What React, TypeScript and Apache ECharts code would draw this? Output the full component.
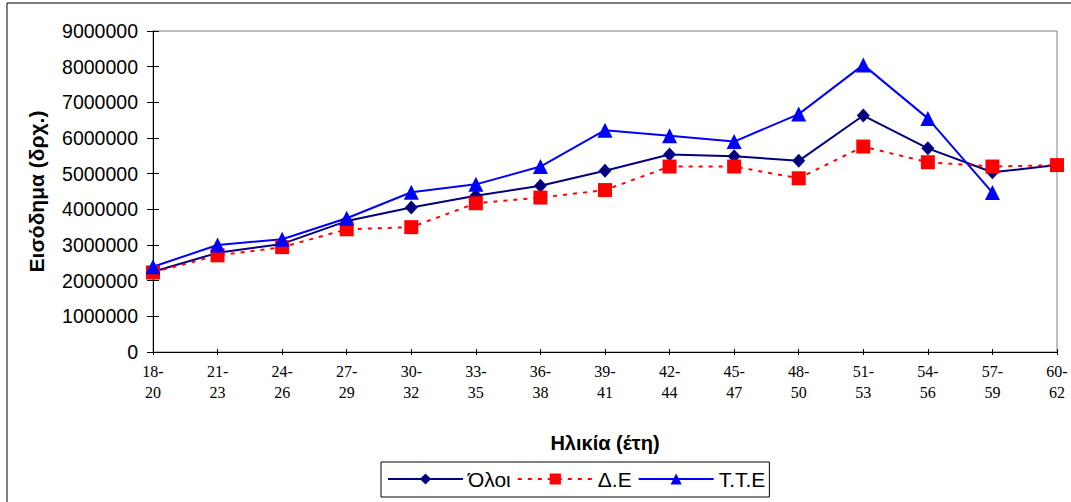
import React, { useEffect, useRef } from "react";
import * as echarts from "echarts";

const categories = ["18-\n20", "21-\n23", "24-\n26", "27-\n29", "30-\n32", "33-\n35", "36-\n38", "39-\n41", "42-\n44", "45-\n47", "48-\n50", "51-\n53", "54-\n56", "57-\n59", "60-\n62"];
const oloi = [2250000, 2780000, 3030000, 3670000, 4050000, 4380000, 4660000, 5080000, 5540000, 5490000, 5360000, 6630000, 5710000, 5040000, 5240000];
const de = [2230000, 2710000, 2940000, 3440000, 3500000, 4170000, 4330000, 4540000, 5200000, 5200000, 4870000, 5760000, 5320000, 5200000, 5240000];
const tte = [2390000, 3000000, 3160000, 3750000, 4480000, 4700000, 5200000, 6220000, 6060000, 5900000, 6670000, 8050000, 6550000, 4470000, null];
const seriesNames = ["Όλοι", "Δ.Ε", "Τ.Τ.Ε"];
const yAxisName = "Εισόδημα (δρχ.)";
const xAxisName = "Ηλικία (έτη)";

export default function App() {
  const ref = useRef<HTMLDivElement>(null);
  useEffect(() => {
    if (!ref.current) return;
    const chart = echarts.init(ref.current, null, { renderer: "svg" });
    const sans = "'Liberation Sans', Arial, sans-serif";
    const serif = "'Liberation Serif', 'Times New Roman', serif";
    chart.setOption({
      animation: false,
      backgroundColor: "#ffffff",
      grid: {
        left: 153,
        top: 31,
        right: 14,
        bottom: 150,
        show: true,
        borderColor: "#808080",
        borderWidth: 1,
        backgroundColor: "transparent",
      },
      graphic: [
        {
          type: "rect",
          shape: { x: 7, y: 3, width: 1080, height: 520 },
          style: { fill: "none", stroke: "#000", lineWidth: 1 },
          silent: true,
          z: -10,
        },
      ],
      legend: {
        left: 381,
        top: 462,
        orient: "horizontal",
        data: seriesNames,
        itemWidth: 75,
        itemHeight: 14,
        itemGap: 6,
        borderColor: "#000",
        borderWidth: 1,
        padding: [6, 4, 7, 6],
        textStyle: { fontFamily: sans, fontSize: 21, color: "#000", lineHeight: 22 },
      },
      xAxis: [
        {
          type: "category",
          data: categories,
          boundaryGap: false,
          name: xAxisName,
          nameLocation: "middle",
          nameGap: 81,
          nameTextStyle: { fontFamily: sans, fontSize: 20, fontWeight: "bold", color: "#000" },
          axisLine: { lineStyle: { color: "#000", width: 1 } },
          axisTick: { show: true, inside: false, length: 3, lineStyle: { color: "#000" } },
          axisLabel: {
            fontFamily: serif,
            fontSize: 16,
            color: "#000",
            lineHeight: 21,
            margin: 9,
            interval: 0,
          },
          splitLine: { show: false },
        },
        {
          type: "category",
          data: categories,
          boundaryGap: false,
          position: "bottom",
          axisLine: { show: false },
          axisTick: { show: true, inside: true, length: 3, lineStyle: { color: "#000" } },
          axisLabel: { show: false },
          splitLine: { show: false },
        },
      ],
      yAxis: [
        {
          type: "value",
          min: 0,
          max: 9000000,
          interval: 1000000,
          name: yAxisName,
          nameLocation: "middle",
          nameGap: 106,
          nameRotate: 90,
          nameTextStyle: { fontFamily: sans, fontSize: 21, fontWeight: "bold", color: "#000" },
          axisLine: { show: true, lineStyle: { color: "#000", width: 1 } },
          axisTick: { show: true, inside: false, length: 6, lineStyle: { color: "#000" } },
          axisLabel: {
            fontFamily: sans,
            fontSize: 19.5,
            color: "#000",
            margin: 15,
            formatter: (v: number) => String(v),
          },
          splitLine: { show: false },
        },
        {
          type: "value",
          min: 0,
          max: 9000000,
          interval: 1000000,
          position: "left",
          axisLine: { show: false },
          axisTick: { show: true, inside: true, length: 6, lineStyle: { color: "#000" } },
          axisLabel: { show: false },
          splitLine: { show: false },
        },
      ],
      series: [
        {
          name: seriesNames[0],
          type: "line",
          data: oloi,
          symbol: "diamond",
          symbolSize: [13, 14],
          lineStyle: { color: "#000080", width: 2 },
          itemStyle: { color: "#000080" },
        },
        {
          name: seriesNames[1],
          type: "line",
          data: de,
          symbol: "rect",
          symbolSize: 14,
          lineStyle: { color: "#ff0000", width: 2, type: [4, 6] },
          itemStyle: { color: "#ff0000" },
        },
        {
          name: seriesNames[2],
          type: "line",
          data: tte,
          symbol: "triangle",
          symbolSize: 15,
          lineStyle: { color: "#0000ff", width: 2 },
          itemStyle: { color: "#0000ff" },
        },
      ],
    });
    return () => chart.dispose();
  }, []);
  return (
    <div
      ref={ref}
      style={{ position: "fixed", left: 0, top: 0, width: 1071, height: 502, background: "#fff" }}
    />
  );
}
